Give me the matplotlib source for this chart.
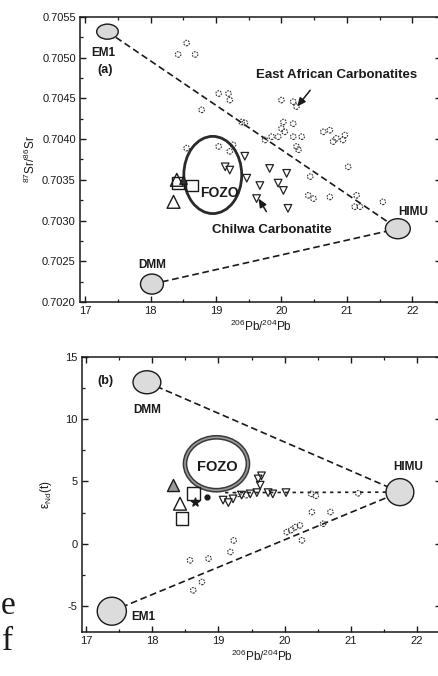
import matplotlib
matplotlib.use("Agg")
import matplotlib.pyplot as plt
from matplotlib.patches import Ellipse
from matplotlib.ticker import MultipleLocator

plt.rcParams['font.family'] = ['Liberation Sans', 'DejaVu Sans']
plt.rcParams['mathtext.fontset'] = 'custom'
plt.rcParams['mathtext.rm'] = 'Liberation Sans'
plt.rcParams['mathtext.it'] = 'Liberation Sans:italic'
plt.rcParams['mathtext.bf'] = 'Liberation Sans:bold'
plt.rcParams['axes.unicode_minus'] = False

# ---------------- data: panel (a) 206Pb/204Pb vs 87Sr/86Sr ----------------
ea_a_pb = [18.55, 18.42, 18.68, 19.04, 19.19, 19.21, 18.78, 19.39, 19.44, 20.00,
           20.18, 20.23, 20.03, 20.18, 20.00, 20.05, 19.75, 19.85, 19.95, 20.18,
           20.31, 20.23, 20.26, 20.64, 20.74, 20.84, 20.94, 20.79, 20.97, 21.02,
           20.44, 20.41, 20.49, 20.74, 21.15, 21.12, 21.20, 21.55, 18.55, 19.04,
           19.21, 19.26]
ea_a_sr = [0.70518, 0.70504, 0.70504, 0.70456, 0.70456, 0.70448, 0.70436, 0.70421, 0.70420, 0.70448,
           0.70446, 0.70440, 0.70421, 0.70419, 0.70413, 0.70409, 0.70399, 0.70403, 0.70403, 0.70403,
           0.70403, 0.70391, 0.70387, 0.70409, 0.70411, 0.70401, 0.70399, 0.70397, 0.70405, 0.70366,
           0.70354, 0.70331, 0.70327, 0.70329, 0.70331, 0.70317, 0.70317, 0.70323, 0.70389, 0.70391,
           0.70385, 0.70393]
ch_a_pb = [19.14, 19.21, 19.47, 19.44, 19.82, 20.08, 19.67, 19.95, 20.03, 19.62, 20.10]
ch_a_sr = [0.70366, 0.70362, 0.70352, 0.70379, 0.70364, 0.70358, 0.70343, 0.70346, 0.70337, 0.70327, 0.70315]
tri_a_pb = [18.40, 18.35]
tri_a_sr = [0.70350, 0.70323]
sq_a_pb = [18.42, 18.63]
sq_a_sr = [0.70346, 0.70343]
dark_a_pb = [18.50]
dark_a_sr = [0.70350]

em_names = ['EM1', 'DMM', 'HIMU']
em_a_pb = [17.34, 18.02, 21.78]
em_a_sr = [0.70532, 0.70222, 0.70290]
fozo_a = (18.95, 0.70356)

# ---------------- data: panel (b) 206Pb/204Pb vs eNd(t) ----------------
ea_b_pb = [19.23, 19.18, 18.85, 18.57, 18.75, 18.62, 20.03, 20.16, 20.23, 20.26,
           20.58, 20.69, 20.41, 20.10, 19.30, 19.42, 20.40, 20.47, 21.11]
ea_b_nd = [0.26, -0.67, -1.20, -1.34, -3.08, -3.75, 0.93, 1.33, 1.47, 0.27,
           1.60, 2.54, 2.54, 1.10, 4.00, 3.90, 4.00, 3.85, 4.05]
ch_b_pb = [19.07, 19.15, 19.22, 19.35, 19.48, 19.58, 19.63, 19.60, 19.65, 19.75, 19.82, 20.02]
ch_b_nd = [3.50, 3.30, 3.60, 3.90, 4.00, 4.10, 4.70, 5.20, 5.45, 4.10, 4.00, 4.10]
tri_b_pb = [18.42]
tri_b_nd = [3.21]
tri_gray_b_pb = [18.32]
tri_gray_b_nd = [4.68]
sq_b_pb = [18.62, 18.45]
sq_b_nd = [4.01, 2.00]
dot_b_pb = [18.82]
dot_b_nd = [3.74]
star_b_pb = [18.65]
star_b_nd = [3.34]

em_b_pb = [17.39, 17.92, 21.74]
em_b_nd = [-5.43, 12.97, 4.14]
fozo_b = (18.97, 6.42)
dotted_b_pb = [19.10, 21.74]
dotted_b_nd = [4.10, 4.14]

# ---------------- figure ----------------
W, H = 439, 676
fig = plt.figure(figsize=(W / 100, H / 100), dpi=100)
ax1 = fig.add_axes([80 / W, 1 - 302 / H, (441 - 80) / W, (302 - 17) / H])
ax2 = fig.add_axes([82 / W, 1 - 632 / H, (441 - 82) / W, (632 - 357) / H])

ink = '#1a1a1a'


def style_axes(ax):
    ax.tick_params(which='both', direction='in', top=True, right=True,
                   labelsize=8, colors=ink, pad=3)
    ax.tick_params(which='major', length=4.5, width=1.0)
    ax.tick_params(which='minor', length=2.5, width=0.9)
    for s in ax.spines.values():
        s.set_linewidth(1.1)
        s.set_color(ink)
    ax.xaxis.set_major_locator(MultipleLocator(1))
    ax.xaxis.set_minor_locator(MultipleLocator(0.5))


dash = dict(color=ink, lw=1.2, linestyle=(0, (4, 2.2)), zorder=1)
circ_kw = dict(s=16, facecolors='none', edgecolors='#333333', linewidths=0.8,
               linestyles=(0, (1.5, 1.0)), zorder=3)
tri_kw = dict(marker='v', s=30, facecolors='none', edgecolors='#222222',
              linewidths=0.9, zorder=3)

# ---------- panel (a) ----------
ax = ax1
style_axes(ax)
ax.set_xlim(16.92, 22.44)
ax.set_ylim(0.7020, 0.7055)
ax.yaxis.set_major_locator(MultipleLocator(0.0005))
ax.yaxis.set_minor_locator(MultipleLocator(0.00025))
ax.yaxis.set_major_formatter(matplotlib.ticker.FormatStrFormatter('%.4f'))

ax.plot([em_a_pb[0], em_a_pb[2]], [em_a_sr[0], em_a_sr[2]], **dash)
ax.plot([em_a_pb[1], em_a_pb[2]], [em_a_sr[1], em_a_sr[2]], **dash)

sizes_a = [(0.33, 0.000185), (0.35, 0.000246), (0.38, 0.000246)]
for (x, y), (w, h) in zip(zip(em_a_pb, em_a_sr), sizes_a):
    ax.add_patch(Ellipse((x, y), w, h, facecolor='#d9d9d9', edgecolor=ink,
                         lw=1.0, zorder=4))
ax.add_patch(Ellipse(fozo_a, 0.885, 0.000948, facecolor='none',
                     edgecolor='#2a2a2a', lw=2.0, zorder=4))

ax.scatter(ea_a_pb, ea_a_sr, **circ_kw)
ax.scatter(ch_a_pb, ch_a_sr, **tri_kw)
ax.scatter(tri_a_pb, tri_a_sr, marker='^', s=85, facecolors='none',
           edgecolors=ink, linewidths=1.0, zorder=5)
ax.scatter(sq_a_pb, sq_a_sr, marker='s', s=70, facecolors='none',
           edgecolors=ink, linewidths=1.0, zorder=5)
ax.scatter(dark_a_pb, dark_a_sr, marker='^', s=30, facecolors='#333333',
           edgecolors=ink, linewidths=0.8, zorder=5)

tb = dict(fontweight='bold', color=ink, ha='center', va='center')
ax.text(17.27, 0.70506, 'EM1', fontsize=8.5, **tb)
ax.text(17.31, 0.70485, '(a)', fontsize=9, **tb)
ax.text(18.02, 0.70246, 'DMM', fontsize=8.5, **tb)
ax.text(22.01, 0.70311, 'HIMU', fontsize=8.5, **tb)
ax.text(19.05, 0.70334, 'FOZO', fontsize=10, zorder=6, **tb)
ax.text(20.85, 0.70479, 'East African Carbonatites', fontsize=9.5, **tb)
ax.text(19.85, 0.70288, 'Chilwa Carbonatite', fontsize=9.5, **tb)
arrow = dict(arrowstyle='-|>,head_length=0.5,head_width=0.22', color=ink, lw=1.1,
             shrinkA=0, shrinkB=0)
ax.annotate('', xy=(20.24, 0.70440), xytext=(20.44, 0.70460), arrowprops=arrow)
ax.annotate('', xy=(19.65, 0.70327), xytext=(19.77, 0.70311), arrowprops=arrow)

ax.set_ylabel(r'$^{87}$Sr/$^{86}$Sr', fontsize=8.5, color=ink, labelpad=3)
ax.set_xlabel(r'$^{206}$Pb/$^{204}$Pb', fontsize=8.5, color=ink, labelpad=2)

# ---------- panel (b) ----------
ax = ax2
style_axes(ax)
ax.set_xlim(16.94, 22.36)
ax.set_ylim(-7.1, 15)
ax.yaxis.set_major_locator(MultipleLocator(5))
ax.yaxis.set_minor_locator(MultipleLocator(2.5))

ax.plot([em_b_pb[1], em_b_pb[2]], [em_b_nd[1], em_b_nd[2]], **dash)
ax.plot([em_b_pb[0], em_b_pb[2]], [em_b_nd[0], em_b_nd[2]], **dash)
ax.plot(dotted_b_pb, dotted_b_nd, color=ink, lw=1.2, linestyle=(0, (2, 2.5)), zorder=1)

sizes_b = [(0.44, 2.25), (0.42, 1.85), (0.42, 2.17)]
for (x, y), (w, h) in zip(zip(em_b_pb, em_b_nd), sizes_b):
    ax.add_patch(Ellipse((x, y), w, h, facecolor='#dcdcdc', edgecolor=ink,
                         lw=1.0, zorder=4))
ax.add_patch(Ellipse(fozo_b, 0.95, 4.25, facecolor='none',
                     edgecolor='#3a3a3a', lw=3.4, zorder=4))
ax.add_patch(Ellipse(fozo_b, 0.95, 4.25, facecolor='none',
                     edgecolor='#9a9a9a', lw=1.2, zorder=4))

ax.scatter(ea_b_pb, ea_b_nd, **circ_kw)
ax.scatter(ch_b_pb, ch_b_nd, **tri_kw)
ax.scatter(tri_b_pb, tri_b_nd, marker='^', s=85, facecolors='none',
           edgecolors=ink, linewidths=1.0, zorder=5)
ax.scatter(tri_gray_b_pb, tri_gray_b_nd, marker='^', s=75, facecolors='#9a9a9a',
           edgecolors=ink, linewidths=1.0, zorder=5)
ax.scatter(sq_b_pb, sq_b_nd, marker='s', s=85, facecolors='none',
           edgecolors=ink, linewidths=1.0, zorder=5)
ax.scatter(dot_b_pb, dot_b_nd, marker='o', s=12, facecolors=ink,
           edgecolors=ink, zorder=5)
ax.scatter(star_b_pb, star_b_nd, marker='*', s=40, facecolors=ink,
           edgecolors=ink, zorder=5)

ax.text(17.29, 13.1, '(b)', fontsize=9, **tb)
ax.text(17.92, 10.78, 'DMM', fontsize=8.5, **tb)
ax.text(21.86, 6.12, 'HIMU', fontsize=8.5, **tb)
ax.text(17.86, -5.9, 'EM1', fontsize=8.5, **tb)
ax.text(18.99, 6.12, 'FOZO', fontsize=10.5, zorder=6, **tb)

ax.set_ylabel('ε$_{\\rm Nd}$(t)', fontsize=8.5, color=ink, labelpad=8)
ax.set_xlabel(r'$^{206}$Pb/$^{204}$Pb', fontsize=8.5, color=ink, labelpad=2)

# page text fragments at the left edge of the scan
fig.text(1 / W, 1 - 606 / H, 'e', fontsize=24, family=['Liberation Serif'],
         color=ink, ha='left', va='center')
fig.text(2 / W, 1 - 642 / H, 'f', fontsize=24, family=['Liberation Serif'],
         color=ink, ha='left', va='center')

fig.savefig('out.png', dpi=100)
